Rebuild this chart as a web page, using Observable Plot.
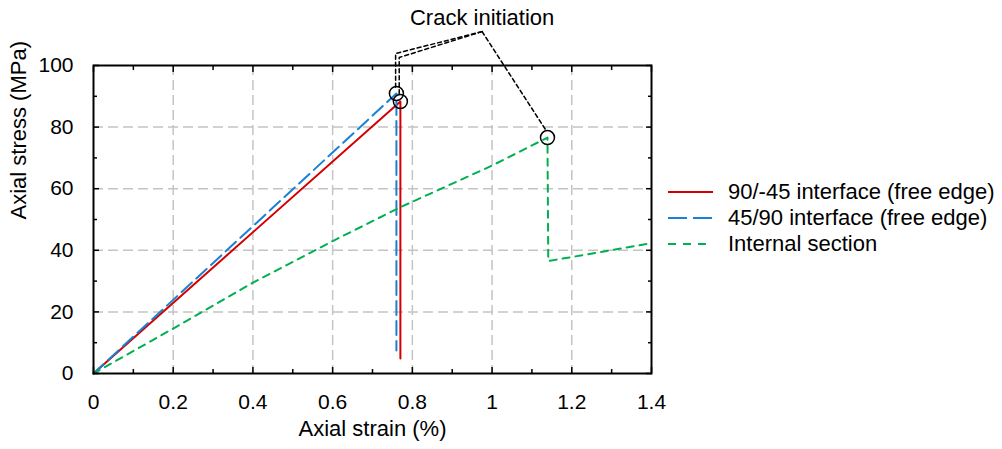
<!DOCTYPE html>
<html><head><meta charset="utf-8">
<script src="https://cdn.jsdelivr.net/npm/d3@7"></script>
<script src="https://cdn.jsdelivr.net/npm/@observablehq/plot@0.6"></script>
<style>
html,body{margin:0;padding:0;background:#fff;}
#wrap{position:relative;width:1002px;height:449px;font-family:"Liberation Sans",Arial,sans-serif;}
#legend{position:absolute;left:668px;top:179px;font-size:22px;color:#000;}
.row{display:flex;align-items:center;height:26px;white-space:nowrap;}
.row svg{width:45px;height:4px;margin-right:15px;overflow:visible;}
</style></head><body><div id="wrap"></div>
<script>
// ---- data ----
const xTicks = [0, 0.2, 0.4, 0.6, 0.8, 1.0, 1.2, 1.4];
const xTickLabels = ["0", "0.2", "0.4", "0.6", "0.8", "1", "1.2", "1.4"];
const xMinor = [0.1, 0.3, 0.5, 0.7, 0.9, 1.1, 1.3];
const yTicks = [0, 20, 40, 60, 80, 100];
const yTickLabels = ["0", "20", "40", "60", "80", "100"];
const yMinor = [10, 30, 50, 70, 90];
const xGrid = [0.2, 0.4, 0.6, 0.8, 1.0, 1.2];
const yGrid = [20, 40, 60, 80];

const seriesNames = ["90/-45 interface (free edge)", "45/90 interface (free edge)", "Internal section"];
const redStrain = [0, 0.770, 0.770];
const redStress = [0, 88.3, 4.9];
const blueStrain = [0, 0.760, 0.760];
const blueStress = [0, 90.9, 7.5];
const greenStrain = [0, 0.2, 0.4, 0.6, 0.77, 1.0, 1.139, 1.141, 1.4];
const greenStress = [0, 14.6, 29.5, 43, 54, 67.5, 76.6, 36.5, 42.3];

const crackStrain = [0.760, 0.770, 1.139];
const crackStress = [90.9, 88.3, 76.6];
const annotationText = "Crack initiation";
const annotationPos = [0.975, 115.3];
const leaderStrain = [[0.975, 0.758, 0.758], [0.975, 0.767, 0.767], [0.975, 1.137]];
const leaderStress = [[111, 103.9, 92.6], [111, 102.6, 90.2], [111, 78.6]];

const colors = ["#d40000", "#1a80d4", "#00b050"];
const dashes = [null, "14,6", "7,6"];

// ---- build tables ----
const toRows = (xs, ys) => xs.map((x, i) => ({x, y: ys[i]}));
const red = toRows(redStrain, redStress);
const blue = toRows(blueStrain, blueStress);
const green = toRows(greenStrain, greenStress);
const crack = toRows(crackStrain, crackStress);
const leaders = leaderStrain.flatMap((xs, k) => xs.map((x, i) => ({x, y: leaderStress[k][i], k})));

const chart = Plot.plot({
  width: 1002, height: 449,
  marginLeft: 93, marginRight: 351, marginTop: 65, marginBottom: 76,
  x: {domain: [0, 1.4]},
  y: {domain: [0, 100]},
  style: {fontFamily: '"Liberation Sans", Arial, sans-serif', fontSize: "21px", color: "#000", background: "#fff", overflow: "visible"},
  marks: [
    Plot.gridX(xGrid, {stroke: "#c4c4c4", strokeOpacity: 1, strokeWidth: 1.5, strokeDasharray: "10,5"}),
    Plot.gridY(yGrid, {stroke: "#c4c4c4", strokeOpacity: 1, strokeWidth: 1.5, strokeDasharray: "10,5"}),
    Plot.line(red, {x: "x", y: "y", stroke: colors[0], strokeWidth: 2}),
    Plot.line(blue, {x: "x", y: "y", stroke: colors[1], strokeWidth: 2, strokeDasharray: dashes[1]}),
    Plot.line(green, {x: "x", y: "y", stroke: colors[2], strokeWidth: 2, strokeDasharray: dashes[2]}),
    Plot.dot(crack, {x: "x", y: "y", r: 7, stroke: "#000", strokeWidth: 1.5, fill: "none"}),
    Plot.line(leaders, {x: "x", y: "y", z: "k", stroke: "#000", strokeWidth: 1.5, strokeDasharray: "4,3"}),
    Plot.text([annotationText], {x: () => annotationPos[0], y: () => annotationPos[1], text: d => d, fontSize: 22, fill: "#000"}),
    Plot.frame({stroke: "#000", strokeWidth: 2}),
    Plot.axisX(xTicks, {anchor: "bottom", tickSize: -6, tickPadding: 27, strokeWidth: 1.5, tickFormat: (d, i) => xTickLabels[i], label: null}),
    Plot.axisX(xMinor, {anchor: "bottom", tickSize: -4, strokeWidth: 1.5, fill: "none", label: null}),
    Plot.axisX(xTicks, {anchor: "top", tickSize: -6, strokeWidth: 1.5, fill: "none", label: null}),
    Plot.axisX(xMinor, {anchor: "top", tickSize: -4, strokeWidth: 1.5, fill: "none", label: null}),
    Plot.axisY(yTicks, {anchor: "left", tickSize: -6, tickPadding: 26, strokeWidth: 1.5, tickFormat: (d, i) => yTickLabels[i], label: null}),
    Plot.axisY(yMinor, {anchor: "left", tickSize: -4, strokeWidth: 1.5, fill: "none", label: null}),
    Plot.axisY(yTicks, {anchor: "right", tickSize: -6, strokeWidth: 1.5, fill: "none", label: null}),
    Plot.axisY(yMinor, {anchor: "right", tickSize: -4, strokeWidth: 1.5, fill: "none", label: null}),
    Plot.text(["Axial strain (%)"], {frameAnchor: "bottom", dy: 62, text: d => d, fontSize: 22, fill: "#000"}),
    Plot.text(["Axial stress (MPa)"], {frameAnchor: "left", dx: -75, rotate: -90, text: d => d, fontSize: 22, fill: "#000"})
  ]
});

const wrap = document.getElementById("wrap");
wrap.appendChild(chart);

const legend = document.createElement("div");
legend.id = "legend";
seriesNames.forEach((name, i) => {
  const row = document.createElement("div");
  row.className = "row";
  const dash = i === 1 ? "19,6" : i === 2 ? "8,7" : "";
  row.innerHTML = `<svg viewBox="0 0 45 4"><line x1="0" y1="2" x2="45" y2="2" stroke="${colors[i]}" stroke-width="2" ${dash ? `stroke-dasharray="${dash}"` : ""}/></svg><span>${name}</span>`;
  legend.appendChild(row);
});
wrap.appendChild(legend);
</script></body></html>
